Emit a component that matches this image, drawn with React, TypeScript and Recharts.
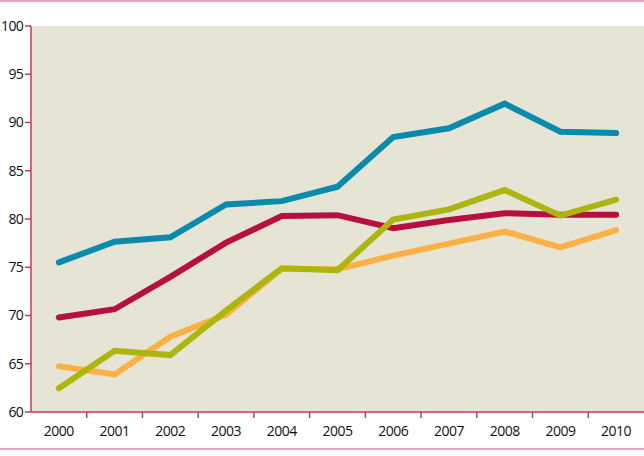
import { LineChart, Line, XAxis, YAxis, CartesianGrid } from 'recharts'

const years = [2000, 2001, 2002, 2003, 2004, 2005, 2006, 2007, 2008, 2009, 2010]
const blueValues = [75.5, 77.65, 78.1, 81.5, 81.85, 83.35, 88.5, 89.4, 91.95, 89.05, 88.9]
const redValues = [69.8, 70.65, 74.0, 77.55, 80.3, 80.4, 79.05, 79.9, 80.6, 80.45, 80.45]
const orangeValues = [64.75, 63.9, 67.8, 70.1, 74.85, 74.8, 76.2, 77.45, 78.7, 77.05, 78.85]
const greenValues = [62.45, 66.35, 65.9, 70.5, 74.9, 74.7, 79.95, 81.0, 83.0, 80.35, 82.0]
const yTicks = [60, 65, 70, 75, 80, 85, 90, 95, 100]

// year labels sit in the middle of each band, tick marks on the band edges
const xTicks = years.flatMap((y, i) => (i < years.length - 1 ? [y, y + 0.5] : [y]))

const data = years.map((year, i) => ({
  year,
  blue: blueValues[i],
  red: redValues[i],
  orange: orangeValues[i],
  green: greenValues[i],
}))

const AXIS = '#c23a6a'
const FONT = '"Open Sans", sans-serif'

function XTick({ x, y, payload }: any) {
  const v = payload.value as number
  if (!Number.isInteger(v)) {
    return <line x1={x} y1={y} x2={x} y2={y + 6} stroke={AXIS} strokeWidth={1.5} />
  }
  return (
    <text
      x={x}
      y={y + 14}
      dy="0.71em"
      textAnchor="middle"
      fontSize={14}
      letterSpacing={-0.5}
      fill="#111"
      fontFamily={FONT}
    >
      {v}
    </text>
  )
}

export default function App() {
  return (
    <div style={{ position: 'absolute', left: 0, top: 0, width: 644, height: 456, background: '#fff' }}>
      <div style={{ position: 'absolute', left: 0, top: 0, width: 644, height: 2, background: '#e6a6c2' }} />
      <div style={{ position: 'absolute', left: 0, top: 448, width: 644, height: 2, background: '#e6a6c2' }} />
      <LineChart width={644} height={456} data={data} margin={{ top: 26, right: 0, left: 0, bottom: 0 }}>
        <CartesianGrid fill="#e6e4d4" stroke="none" horizontal={false} vertical={false} />
        <XAxis
          dataKey="year"
          type="number"
          domain={[1999.5, 2010.5]}
          ticks={xTicks}
          interval={0}
          tickLine={false}
          tickSize={0}
          tickMargin={0}
          height={44}
          axisLine={{ stroke: AXIS, strokeWidth: 1.5 }}
          tick={<XTick />}
        />
        <YAxis
          type="number"
          domain={[60, 100]}
          ticks={yTicks}
          interval={0}
          width={31}
          tickSize={6}
          tickMargin={2}
          axisLine={{ stroke: AXIS, strokeWidth: 1.5 }}
          tickLine={{ stroke: AXIS, strokeWidth: 1.5 }}
          tick={{ fontSize: 14, fill: '#111', fontFamily: FONT, letterSpacing: -0.7 }}
        />
        <Line dataKey="orange" stroke="#fdb043" strokeWidth={6} dot={false} strokeLinecap="round" isAnimationActive={false} />
        <Line dataKey="red" stroke="#b70f40" strokeWidth={6} dot={false} strokeLinecap="round" isAnimationActive={false} />
        <Line dataKey="green" stroke="#adb50f" strokeWidth={6} dot={false} strokeLinecap="round" isAnimationActive={false} />
        <Line dataKey="blue" stroke="#0a8aac" strokeWidth={6} dot={false} strokeLinecap="round" isAnimationActive={false} />
      </LineChart>
    </div>
  )
}
